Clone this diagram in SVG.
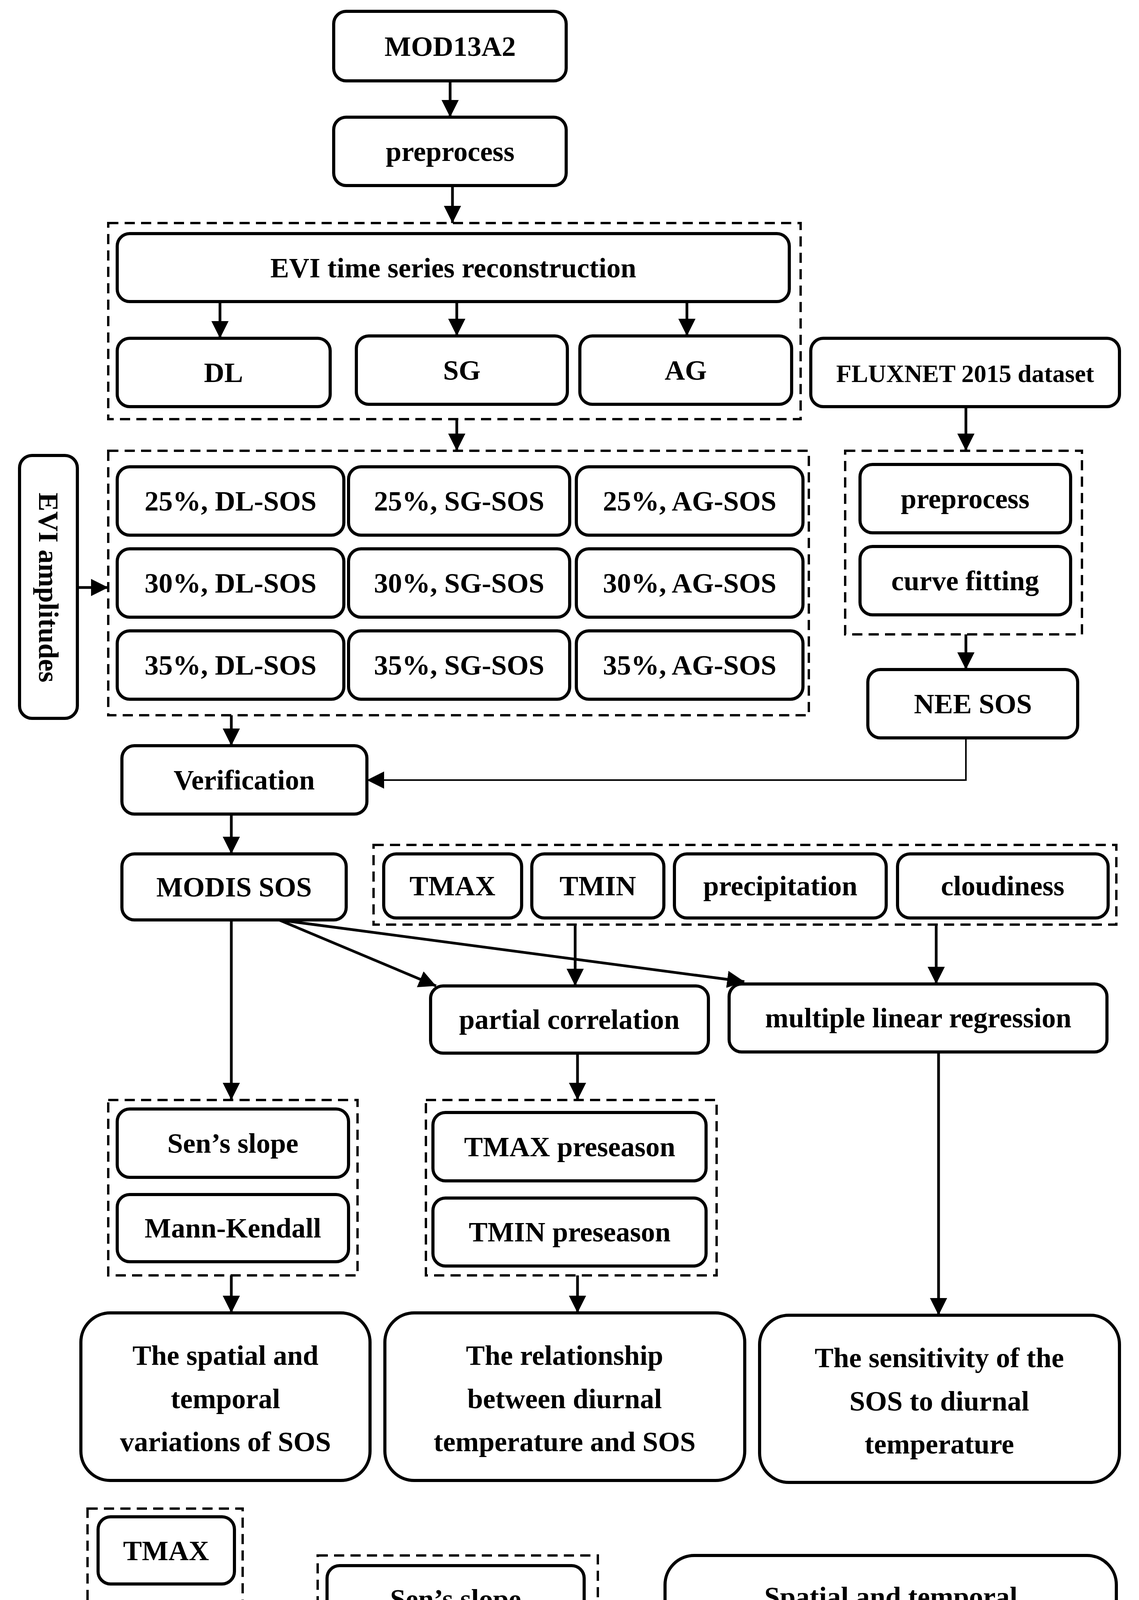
<svg xmlns="http://www.w3.org/2000/svg" width="2915" height="4567" viewBox="0 0 2915 4567">
<style>
.n{fill:#fff;stroke:#000;stroke-width:8}
.d{fill:none;stroke:#000;stroke-width:6;stroke-dasharray:26 16}
.c{fill:none;stroke:#000;stroke-width:7}
text{font-family:"Liberation Serif",serif;font-weight:bold;font-size:72px;text-anchor:middle;fill:#000}
</style>
<defs><marker id="a" markerUnits="userSpaceOnUse" markerWidth="44" markerHeight="50" refX="44" refY="22" orient="auto"><path d="M0,0L44,22L0,44z"/></marker></defs>
<rect width="2915" height="4567" fill="#fff"/>
<g id="groups">
<rect class="d" x="277" y="571" width="1772" height="502"/>
<rect class="d" x="277" y="1154" width="1793" height="677"/>
<rect class="d" x="2163" y="1154" width="606" height="470"/>
<rect class="d" x="956" y="2163" width="1901" height="204"/>
<rect class="d" x="277" y="2816" width="638" height="449"/>
<rect class="d" x="1090" y="2816" width="744" height="449"/>
<rect class="d" x="224" y="3862" width="397" height="665"/>
<rect class="d" x="813" y="3982" width="717" height="440"/>
</g>
<g id="connectors">
<path class="c" d="M1152,207V300" marker-end="url(#a)"/>
<path class="c" d="M1158,475V571" marker-end="url(#a)"/>
<path class="c" d="M563,772V866" marker-end="url(#a)"/>
<path class="c" d="M1169,772V860" marker-end="url(#a)"/>
<path class="c" d="M1758,772V860" marker-end="url(#a)"/>
<path class="c" d="M1169,1073V1154" marker-end="url(#a)"/>
<path class="c" d="M198,1504H277" marker-end="url(#a)"/>
<path class="c" d="M2472,1041V1154" marker-end="url(#a)"/>
<path class="c" d="M2472,1624V1714" marker-end="url(#a)"/>
<path class="c" d="M2472,1889V1997H939" marker-end="url(#a)" style="stroke-width:4"/>
<path class="c" d="M592,1831V1909" marker-end="url(#a)"/>
<path class="c" d="M592,2084V2186" marker-end="url(#a)"/>
<path class="c" d="M1472,2367V2524" marker-end="url(#a)"/>
<path class="c" d="M2396,2367V2519" marker-end="url(#a)"/>
<path class="c" d="M714,2355L1116,2524" marker-end="url(#a)"/>
<path class="c" d="M714,2355L1905,2513" marker-end="url(#a)"/>
<path class="c" d="M592,2355V2816" marker-end="url(#a)"/>
<path class="c" d="M592,3265V3361" marker-end="url(#a)"/>
<path class="c" d="M1478,2696V2816" marker-end="url(#a)"/>
<path class="c" d="M1478,3265V3361" marker-end="url(#a)"/>
<path class="c" d="M2402,2693V3367" marker-end="url(#a)"/>
<path class="c" d="M621,4203H813" marker-end="url(#a)"/>
<path class="c" d="M1530,4203H1702" marker-end="url(#a)"/>
</g>
<g id="mod"><rect class="n" x="854" y="29" width="595" height="178" rx="32"/><text x="1152" y="143">MOD13A2</text></g>
<g id="pre1"><rect class="n" x="854" y="300" width="595" height="175" rx="32"/><text x="1152" y="412">preprocess</text></g>
<g id="evi"><rect class="n" x="300" y="598" width="1720" height="174" rx="32"/><text x="1160" y="710">EVI time series reconstruction</text></g>
<g id="dl"><rect class="n" x="300" y="866" width="545" height="175" rx="32"/><text x="572" y="978">DL</text></g>
<g id="sg"><rect class="n" x="912" y="860" width="540" height="175" rx="32"/><text x="1182" y="972">SG</text></g>
<g id="ag"><rect class="n" x="1484" y="860" width="542" height="175" rx="32"/><text x="1755" y="972">AG</text></g>
<g id="flux"><rect class="n" x="2075" y="866" width="790" height="175" rx="32"/><text x="2470" y="978" style="font-size:64px">FLUXNET 2015 dataset</text></g>
<g id="amp"><rect class="n" x="50" y="1166" width="148" height="673" rx="32"/><text transform="translate(124,1504) rotate(90)" y="24">EVI amplitudes</text></g>
<g id="r1c1"><rect class="n" x="300" y="1195" width="580" height="175" rx="32"/><text x="590" y="1307">25%, DL-SOS</text></g>
<g id="r1c2"><rect class="n" x="892" y="1195" width="566" height="175" rx="32"/><text x="1175" y="1307">25%, SG-SOS</text></g>
<g id="r1c3"><rect class="n" x="1475" y="1195" width="580" height="175" rx="32"/><text x="1765" y="1307">25%, AG-SOS</text></g>
<g id="r2c1"><rect class="n" x="300" y="1405" width="580" height="175" rx="32"/><text x="590" y="1517">30%, DL-SOS</text></g>
<g id="r2c2"><rect class="n" x="892" y="1405" width="566" height="175" rx="32"/><text x="1175" y="1517">30%, SG-SOS</text></g>
<g id="r2c3"><rect class="n" x="1475" y="1405" width="580" height="175" rx="32"/><text x="1765" y="1517">30%, AG-SOS</text></g>
<g id="r3c1"><rect class="n" x="300" y="1615" width="580" height="175" rx="32"/><text x="590" y="1727">35%, DL-SOS</text></g>
<g id="r3c2"><rect class="n" x="892" y="1615" width="566" height="175" rx="32"/><text x="1175" y="1727">35%, SG-SOS</text></g>
<g id="r3c3"><rect class="n" x="1475" y="1615" width="580" height="175" rx="32"/><text x="1765" y="1727">35%, AG-SOS</text></g>
<g id="pre2"><rect class="n" x="2201" y="1189" width="539" height="175" rx="32"/><text x="2470" y="1301">preprocess</text></g>
<g id="curve"><rect class="n" x="2201" y="1399" width="539" height="175" rx="32"/><text x="2470" y="1511">curve fitting</text></g>
<g id="nee"><rect class="n" x="2221" y="1714" width="537" height="175" rx="32"/><text x="2490" y="1826">NEE SOS</text></g>
<g id="ver"><rect class="n" x="312" y="1909" width="627" height="175" rx="32"/><text x="625" y="2021">Verification</text></g>
<g id="modis"><rect class="n" x="312" y="2186" width="574" height="169" rx="32"/><text x="599" y="2295">MODIS SOS</text></g>
<g id="tmax"><rect class="n" x="982" y="2186" width="353" height="164" rx="32"/><text x="1158" y="2292">TMAX</text></g>
<g id="tmin"><rect class="n" x="1361" y="2186" width="338" height="164" rx="32"/><text x="1530" y="2292">TMIN</text></g>
<g id="prec"><rect class="n" x="1726" y="2186" width="542" height="164" rx="32"/><text x="1997" y="2292">precipitation</text></g>
<g id="cloud"><rect class="n" x="2297" y="2186" width="539" height="164" rx="32"/><text x="2566" y="2292">cloudiness</text></g>
<g id="pc"><rect class="n" x="1102" y="2524" width="711" height="172" rx="32"/><text x="1457" y="2634">partial correlation</text></g>
<g id="mlr"><rect class="n" x="1866" y="2519" width="967" height="174" rx="32"/><text x="2350" y="2630">multiple linear regression</text></g>
<g id="sen1"><rect class="n" x="300" y="2839" width="592" height="175" rx="32"/><text x="596" y="2951">Sen’s slope</text></g>
<g id="mk"><rect class="n" x="300" y="3058" width="592" height="172" rx="32"/><text x="596" y="3168">Mann-Kendall</text></g>
<g id="tmaxp"><rect class="n" x="1108" y="2848" width="699" height="175" rx="32"/><text x="1458" y="2960">TMAX preseason</text></g>
<g id="tminp"><rect class="n" x="1108" y="3067" width="699" height="174" rx="32"/><text x="1458" y="3178">TMIN preseason</text></g>
<g id="res1"><rect class="n" x="207" y="3361" width="740" height="429" rx="75"/><text x="577"><tspan x="577" y="3494">The spatial and</tspan><tspan x="577" y="3605">temporal</tspan><tspan x="577" y="3715">variations of SOS</tspan></text></g>
<g id="res2"><rect class="n" x="985" y="3361" width="921" height="429" rx="75"/><text x="1445"><tspan x="1445" y="3494">The relationship</tspan><tspan x="1445" y="3605">between diurnal</tspan><tspan x="1445" y="3715">temperature and SOS</tspan></text></g>
<g id="res3"><rect class="n" x="1944" y="3367" width="921" height="428" rx="75"/><text x="2404"><tspan x="2404" y="3500">The sensitivity of the</tspan><tspan x="2404" y="3611">SOS to diurnal</tspan><tspan x="2404" y="3721">temperature</tspan></text></g>
<g id="tmax2"><rect class="n" x="251" y="3883" width="349" height="172" rx="32"/><text x="425" y="3994">TMAX</text></g>
<g id="tmin2"><rect class="n" x="251" y="4110" width="349" height="175" rx="32"/><text x="425" y="4222">TMIN</text></g>
<g id="dtr"><rect class="n" x="251" y="4335" width="349" height="175" rx="32"/><text x="425" y="4447">DTR</text></g>
<g id="sen2"><rect class="n" x="837" y="4008" width="658" height="172" rx="32"/><text x="1166" y="4118">Sen’s slope</text></g>
<g id="recl"><rect class="n" x="837" y="4224" width="658" height="175" rx="32"/><text x="1166" y="4336">Reclassify</text></g>
<g id="final"><rect class="n" x="1702" y="3982" width="1155" height="440" rx="75"/><text x="2280"><tspan x="2280" y="4112">Spatial and temporal</tspan><tspan x="2280" y="4223">variations in diurnal</tspan><tspan x="2280" y="4333">temperature during the</tspan></text></g>
</svg>
